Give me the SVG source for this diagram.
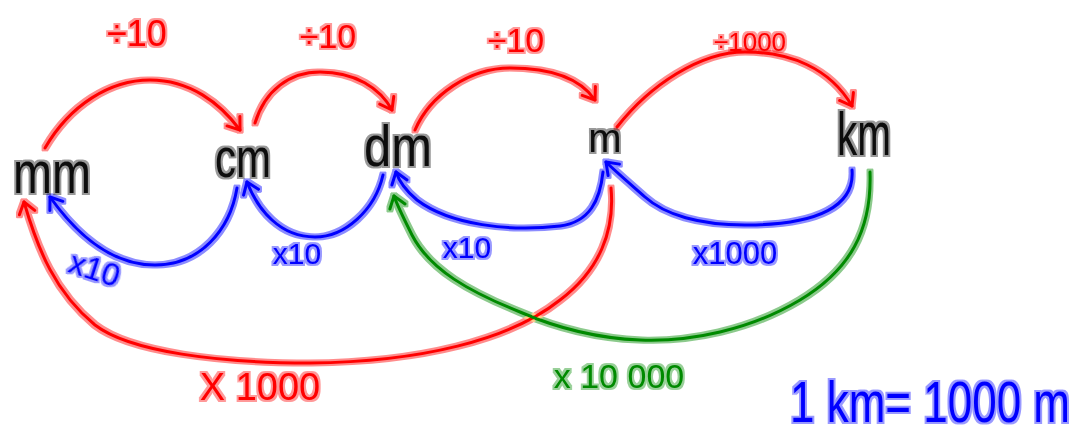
<svg xmlns="http://www.w3.org/2000/svg" width="1083" height="434" viewBox="0 0 1083 434">
<style>
.ln{fill:none;stroke-width:3;stroke-linecap:round;stroke-linejoin:round}
.red{stroke:#ff0000}.blue{stroke:#0000ff}.green{stroke:#008a00}
.t{font-family:"Liberation Sans","DejaVu Sans",sans-serif;text-anchor:middle}
.tr{fill:#ff0000}.tb{fill:#0000ff}.tg{fill:#008a00}.tk{fill:#111111}
.node{filter:url(#haloT)}
</style>
<defs>
<filter id="halo" x="-20%" y="-20%" width="140%" height="140%">
<feMorphology in="SourceGraphic" operator="dilate" radius="2.2" result="d"/>
<feColorMatrix in="d" type="matrix" values="1 0 0 0 0  0 1 0 0 0  0 0 1 0 0  0 0 0 0.45 0" result="h"/>
<feMerge><feMergeNode in="h"/><feMergeNode in="SourceGraphic"/></feMerge>
</filter>
<filter id="haloT" x="-20%" y="-20%" width="140%" height="140%">
<feMorphology in="SourceGraphic" operator="dilate" radius="1.5" result="d"/>
<feColorMatrix in="d" type="matrix" values="1 0 0 0 0  0 1 0 0 0  0 0 1 0 0  0 0 0 0.4 0" result="h"/>
<feMerge><feMergeNode in="h"/><feMergeNode in="SourceGraphic"/></feMerge>
</filter>
<marker id="arR" markerUnits="userSpaceOnUse" markerWidth="30" markerHeight="30" viewBox="-15 -15 30 30" orient="auto" overflow="visible"><path d="M-11,-8 L0,0 L-11,8" fill="none" stroke="#ff0000" stroke-width="3" stroke-linecap="round" stroke-linejoin="round"/></marker>
<marker id="arB" markerUnits="userSpaceOnUse" markerWidth="30" markerHeight="30" viewBox="-15 -15 30 30" orient="auto" overflow="visible"><path d="M-11,-8 L0,0 L-11,8" fill="none" stroke="#0000ff" stroke-width="3" stroke-linecap="round" stroke-linejoin="round"/></marker>
<marker id="arG" markerUnits="userSpaceOnUse" markerWidth="30" markerHeight="30" viewBox="-15 -15 30 30" orient="auto" overflow="visible"><path d="M-11,-8 L0,0 L-11,8" fill="none" stroke="#008a00" stroke-width="3" stroke-linecap="round" stroke-linejoin="round"/></marker>
</defs>
<rect width="1083" height="434" fill="#ffffff"/>

<g id="connectors" filter="url(#halo)">
<path class="ln red" marker-end="url(#arR)" d="M45,148 C70,105 110,80 150,80 C190,80 220,103 240,130"/>
<path class="ln red" marker-end="url(#arR)" d="M255,123 C265,90 290,72 320,72 C355,72 380,88 392,110"/>
<path class="ln red" marker-end="url(#arR)" d="M415,130 C430,95 470,68 510,68 C550,68 580,78 595,100"/>
<path class="ln red" marker-end="url(#arR)" d="M617,127 C650,85 700,52 745,52 C790,52 830,68 852,106"/>
<path class="ln blue" marker-end="url(#arB)" d="M237,188 C230,230 200,265 155,265 C110,265 75,232 50,197"/>
<path class="ln blue" marker-end="url(#arB)" d="M383,175 C375,210 345,237 315,237 C280,237 258,210 247,182"/>
<path class="ln blue" marker-end="url(#arB)" d="M603,172 C600,200 590,222 560,226 C510,232 450,225 417,200 C405,190 399,181 396,172"/>
<path class="ln blue" marker-end="url(#arB)" d="M852,170 C855,205 820,225 745,225 C700,225 665,215 645,197 C628,182 614,170 606,162"/>
<path class="ln red" marker-end="url(#arR)" d="M611,188 C615,230 600,270 560,300 C510,340 420,362 310,363 C220,363 130,352 95,325 C55,292 38,250 24,202"/>
<path class="ln green" marker-end="url(#arG)" d="M870,172 C872,230 850,270 800,300 C750,330 690,342 640,340 C590,338 550,325 520,312 C470,292 430,270 412,235 C402,215 397,205 394,196"/>
</g>

<g id="labels" filter="url(#haloT)">
<text class="t tr" x="137" y="46" font-size="36">÷10</text>
<text class="t tr" x="328" y="48" font-size="34">÷10</text>
<text class="t tr" x="516" y="52" font-size="34">÷10</text>
<text class="t tr" x="750" y="51" font-size="26">÷1000</text>
<text class="t tb" x="95" y="280" font-size="32" transform="rotate(18 95 268)">x10</text>
<text class="t tb" x="297" y="264" font-size="30">x10</text>
<text class="t tb" x="467" y="258" font-size="30">x10</text>
<text class="t tb" x="735" y="264" font-size="31">x1000</text>
<text class="t tr" x="260" y="400" font-size="38">X 1000</text>
<text class="t tg" x="619" y="388" font-size="34">x 10 000</text>
<text class="t tb" transform="translate(930,422) scale(1,1.3)" x="0" y="0" font-size="44">1 km= 1000 m</text>
</g>

<g id="mm" class="node"><text class="t tk" x="52" y="193" font-size="60" textLength="78" lengthAdjust="spacingAndGlyphs">mm</text></g>
<g id="cm" class="node"><text class="t tk" x="243" y="177" font-size="56" textLength="56" lengthAdjust="spacingAndGlyphs">cm</text></g>
<g id="dm" class="node"><text class="t tk" x="398" y="166" font-size="58" textLength="68" lengthAdjust="spacingAndGlyphs">dm</text></g>
<g id="m" class="node"><text class="t tk" x="605" y="152" font-size="40">m</text></g>
<g id="km" class="node"><text class="t tk" x="864" y="155" font-size="62" textLength="54" lengthAdjust="spacingAndGlyphs">km</text></g>
</svg>
